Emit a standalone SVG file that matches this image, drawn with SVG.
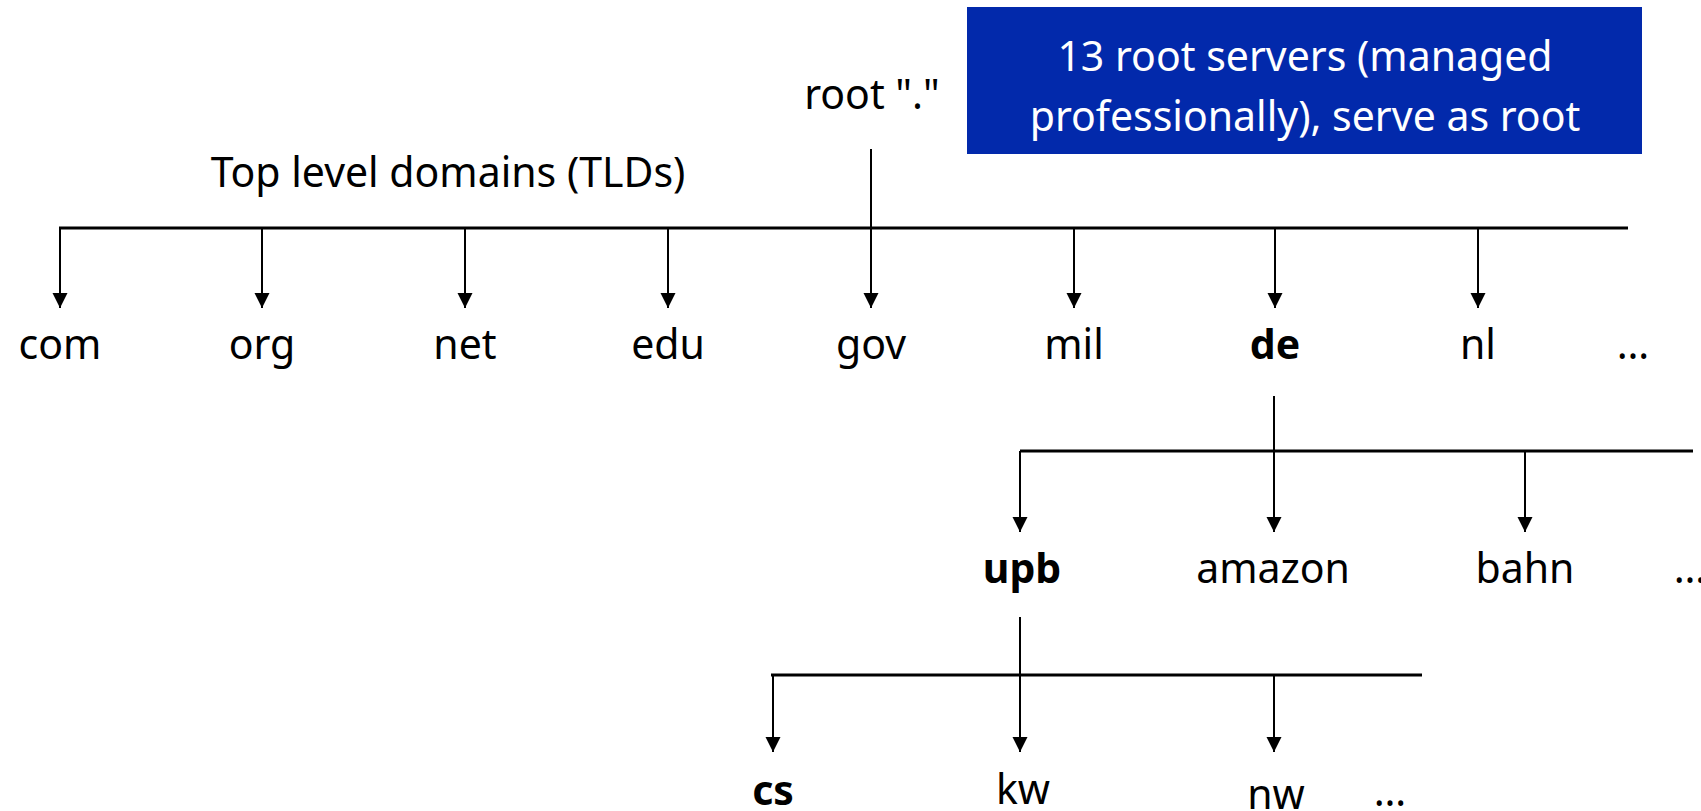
<svg xmlns="http://www.w3.org/2000/svg" width="1701" height="811" viewBox="0 0 1701 811">
  <style>
    text { font-family: "Noto Sans", "Open Sans", sans-serif; font-size: 41px; fill: #000; text-anchor: middle; }
    .b { font-weight: bold; }
    .w { fill: #fff; }
    .bus { stroke: #000; stroke-width: 3; fill: none; }
    .drop { stroke: #000; stroke-width: 2; fill: none; marker-end: url(#tip); }
    .stem { stroke: #000; stroke-width: 2; fill: none; }
  </style>
  <defs>
    <marker id="tip" markerUnits="userSpaceOnUse" markerWidth="16" markerHeight="16" refX="15" refY="8" orient="auto">
      <path d="M0,0.5 L15,8 L0,15.5 Z" fill="#000"/>
    </marker>
  </defs>

  <rect width="1701" height="811" fill="#fff"/>

  <!-- root servers info box -->
  <g id="root-info">
    <rect x="967" y="7" width="675" height="147" fill="#0229AB"/>
    <text class="w" x="1305" y="71">13 root servers (managed</text>
    <text class="w" x="1305" y="131">professionally), serve as root</text>
  </g>

  <g id="root"><text x="872" y="109">root "."</text></g>
  <g id="tld-caption"><text x="448" y="187">Top level domains (TLDs)</text></g>

  <!-- connectors -->
  <g id="connectors">
    <!-- root to TLDs -->
    <line class="bus" x1="59" y1="228" x2="1628" y2="228"/>
    <line class="drop" x1="871" y1="149" x2="871" y2="308"/>
    <line class="drop" x1="60" y1="228" x2="60" y2="308"/>
    <line class="drop" x1="262" y1="228" x2="262" y2="308"/>
    <line class="drop" x1="465" y1="228" x2="465" y2="308"/>
    <line class="drop" x1="668" y1="228" x2="668" y2="308"/>
    <line class="drop" x1="1074" y1="228" x2="1074" y2="308"/>
    <line class="drop" x1="1275" y1="228" x2="1275" y2="308"/>
    <line class="drop" x1="1478" y1="228" x2="1478" y2="308"/>

    <!-- de to second level -->
    <line class="bus" x1="1020" y1="451" x2="1693" y2="451"/>
    <line class="stem" x1="1274" y1="396" x2="1274" y2="451"/>
    <line class="drop" x1="1020" y1="451" x2="1020" y2="532"/>
    <line class="drop" x1="1274" y1="451" x2="1274" y2="532"/>
    <line class="drop" x1="1525" y1="451" x2="1525" y2="532"/>

    <!-- upb to third level -->
    <line class="bus" x1="771" y1="675" x2="1422" y2="675"/>
    <line class="stem" x1="1020" y1="617" x2="1020" y2="675"/>
    <line class="drop" x1="773" y1="675" x2="773" y2="752"/>
    <line class="drop" x1="1020" y1="675" x2="1020" y2="752"/>
    <line class="drop" x1="1274" y1="675" x2="1274" y2="752"/>
  </g>

  <!-- top level domains -->
  <g id="com"><text x="60" y="359">com</text></g>
  <g id="org"><text x="262" y="359">org</text></g>
  <g id="net"><text x="465" y="359">net</text></g>
  <g id="edu"><text x="668" y="359">edu</text></g>
  <g id="gov"><text x="871" y="359">gov</text></g>
  <g id="mil"><text x="1074" y="359">mil</text></g>
  <g id="de"><text class="b" x="1275" y="359">de</text></g>
  <g id="nl"><text x="1478" y="359">nl</text></g>
  <g id="tld-more"><text x="1633" y="359">…</text></g>

  <!-- second level under de -->
  <g id="upb"><text class="b" x="1022" y="583">upb</text></g>
  <g id="amazon"><text x="1273" y="583">amazon</text></g>
  <g id="bahn"><text x="1525" y="583">bahn</text></g>
  <g id="de-more"><text x="1690" y="583">…</text></g>

  <!-- third level under upb -->
  <g id="cs"><text class="b" x="773" y="805">cs</text></g>
  <g id="kw"><text x="1023" y="804">kw</text></g>
  <g id="nw"><text x="1276" y="809">nw</text></g>
  <g id="upb-more"><text x="1390" y="806">…</text></g>
</svg>
